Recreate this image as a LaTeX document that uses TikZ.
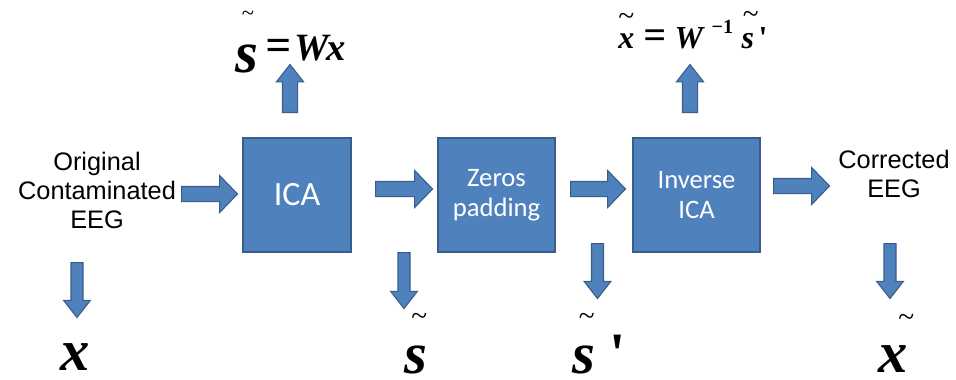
\documentclass[tikz,border=0pt]{standalone}
\usepackage{fontspec}
\setmainfont{Liberation Sans}
\newfontfamily\calfont{Carlito}
\newfontface\tnrbi{Liberation Serif Bold Italic}
\newfontface\tnrb{Liberation Serif Bold}
\newfontface\tnrr{Liberation Serif}
\usetikzlibrary{shapes.arrows}
\definecolor{boxblue}{HTML}{4F81BD}
\definecolor{boxedge}{HTML}{385D8A}
\newcommand{\tld}[3]{\makebox[0pt][l]{\hspace*{#1}\raisebox{#2}{\tnrr\fontsize{#3}{#3}\selectfont\textasciitilde}}}
\begin{document}
\begin{tikzpicture}[x=0.75pt,y=-0.75pt,
  procbox/.style={draw=boxedge, fill=boxblue, line width=1.1pt, text=white,
    font=\calfont\fontsize{20pt}{22.5pt}\selectfont, align=center,
    minimum height=85.5pt, inner sep=0pt},
  blockarrow/.style={single arrow, draw=boxedge, fill=boxblue, line width=0.8pt,
    inner xsep=0pt, anchor=tail},
  harrow/.style={blockarrow, inner ysep=5.25pt, single arrow head extend=8.25pt,
    single arrow tip angle=92},
  darrow/.style={blockarrow, rotate=-90, inner ysep=4.1pt, single arrow head extend=5.6pt,
    single arrow tip angle=76},
  uarrow/.style={blockarrow, rotate=90, inner ysep=5.25pt, single arrow head extend=4.5pt,
    single arrow tip angle=76},
  srclbl/.style={font=\fontsize{19pt}{21.75pt}\selectfont, align=center, inner sep=0pt},
  mathlbl/.style={font=\tnrbi, inner sep=0pt, anchor=base},
  biglbl/.style={mathlbl, font=\tnrbi\fontsize{44pt}{44pt}\selectfont}
]
\useasboundingbox (0,0) rectangle (956,379);

% processing boxes
\node[procbox, minimum width=81pt, font=\calfont\fontsize{25.5pt}{27pt}\selectfont] (ica) at (297,195) {ICA};
\node[procbox, minimum width=87.75pt] (zeros) at (496.5,195) {Zeros\\padding};
\node[procbox, minimum width=95.25pt] (inv) at (696.5,195) {Inverse\\ICA};

% side labels
\node[srclbl] (input) at (97,190) {Original\\Contaminated\\EEG};
\node[srclbl] (output) at (894,174) {Corrected\\EEG};

% horizontal block arrows
\node[harrow, minimum height=42pt] (a1) at (181,194) {};
\node[harrow, minimum height=42.75pt] (a2) at (375,189) {};
\node[harrow, minimum height=41.25pt] (a3) at (570,189) {};
\node[harrow, minimum height=42pt] (a4) at (773,186) {};

% vertical block arrows
\node[darrow, minimum height=41.25pt] (d1) at (77,262) {};
\node[darrow, minimum height=42pt] (d2) at (404,252) {};
\node[darrow, minimum height=41.25pt] (d3) at (597.5,243) {};
\node[darrow, minimum height=41.25pt] (d4) at (890,243) {};
\node[uarrow, minimum height=36pt] (u1) at (290,113) {};
\node[uarrow, minimum height=36pt] (u2) at (690,113) {};

% formulas
\node[mathlbl, anchor=base west] (f1) at (235,60)
  {\tld{5pt}{30pt}{17pt}\makebox[22.5pt][l]{\raisebox{-9pt}{\fontsize{44pt}{44pt}\selectfont s}}%
   \makebox[22pt][l]{\fontsize{34pt}{34pt}\selectfont=}%
   \fontsize{29pt}{30pt}\selectfont W\kern-2pt x};
\node[mathlbl, anchor=base west] (f2) at (618,48)
  {\fontsize{24pt}{26pt}\selectfont
   \makebox[18.75pt][l]{\tld{0pt}{17pt}{22pt}x}%
   \makebox[23.5pt][l]{\fontsize{30pt}{30pt}\selectfont=}%
   \makebox[27.75pt][l]{\fontsize{24pt}{26pt}\selectfont W}%
   \makebox[22.5pt][l]{\raisebox{11pt}{\tnrb\fontsize{15pt}{15pt}\selectfont−1}}%
   \makebox[12.75pt][l]{\tld{1pt}{18.4pt}{22pt}s}%
   \tnrb\textquotesingle};

% bottom symbols
\node[biglbl] (xin) at (75,370) {x};
\node[biglbl] (shat) at (416,373) {\tld{5pt}{36pt}{22pt}s};
\node[biglbl, anchor=base west] (sprime) at (572,373) {\tld{5pt}{36pt}{22pt}s {\tnrb\textquotesingle}};
\node[biglbl] (xout) at (893,372) {\tld{15pt}{34.5pt}{22pt}x};
\end{tikzpicture}
\end{document}
